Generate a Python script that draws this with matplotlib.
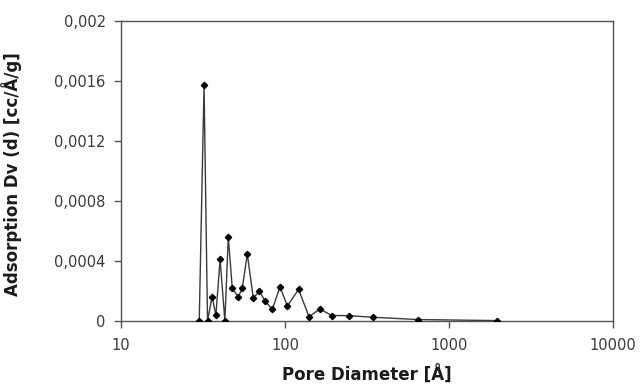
import matplotlib
matplotlib.use("Agg")
import matplotlib.pyplot as plt
from matplotlib.ticker import FixedLocator, FuncFormatter, NullLocator

# pore diameter (Å) and differential adsorption volume (cc/Å/g)
pore_diameter = [30.0, 32.1, 33.7, 35.9, 37.9, 40.2, 43.0, 45.1, 47.7, 51.9,
                 54.9, 58.9, 64.1, 69.7, 75.2, 83.7, 93.3, 103.3, 121.0,
                 140.0, 163.0, 193.0, 247.0, 345.0, 650.0, 1970.0]
adsorption_dv = [0.0, 0.001573, 0.0, 0.000162, 0.00004, 0.000411, 0.0,
                 0.000562, 0.000218, 0.000162, 0.000218, 0.000447, 0.000151,
                 0.000202, 0.000136, 0.000078, 0.000229, 0.0001, 0.000211,
                 0.000029, 0.000080, 0.000037, 0.000036, 0.000025, 0.00001,
                 0.000003]

x_ticks = [10, 100, 1000, 10000]
y_ticks = [0, 0.0004, 0.0008, 0.0012, 0.0016, 0.002]

plt.rcParams["font.family"] = ["DejaVu Sans"]

fig = plt.figure(figsize=(6.4, 3.92), dpi=100)
ax = fig.add_axes([0.189, 0.181, 0.769, 0.765])

ax.plot(pore_diameter, adsorption_dv, color="#3a3a3a", lw=1.0,
        marker="D", ms=3.2, mfc="black", mec="black", zorder=3)

ax.set_xscale("log")
ax.set_xlim(10, 10000)
ax.set_ylim(0, 0.002)
ax.xaxis.set_major_locator(FixedLocator(x_ticks))
ax.xaxis.set_minor_locator(NullLocator())
ax.xaxis.set_major_formatter(FuncFormatter(lambda v, _p: "%d" % v))
ax.yaxis.set_major_locator(FixedLocator(y_ticks))
ax.yaxis.set_major_formatter(
    FuncFormatter(lambda v, _p: "0" if v == 0 else ("%g" % v).replace(".", ",")))

for sp in ax.spines.values():
    sp.set_color("#555555")
    sp.set_linewidth(1.0)
ax.tick_params(axis="both", direction="out", length=5, width=1.0,
               color="#555555", labelcolor="#3a3a3a", labelsize=10.5)
ax.tick_params(axis="x", pad=7)
ax.tick_params(axis="y", pad=6)

ax.set_xlabel("Pore Diameter [Å]", fontsize=12, fontweight="bold",
              color="#1a1a1a", labelpad=9)
ax.set_ylabel("Adsorption Dv (d) [cc/Å/g]", fontsize=12, fontweight="bold",
              color="#1a1a1a")
ax.yaxis.set_label_coords(-0.201, 0.49)

fig.savefig("out.png", dpi=100)
